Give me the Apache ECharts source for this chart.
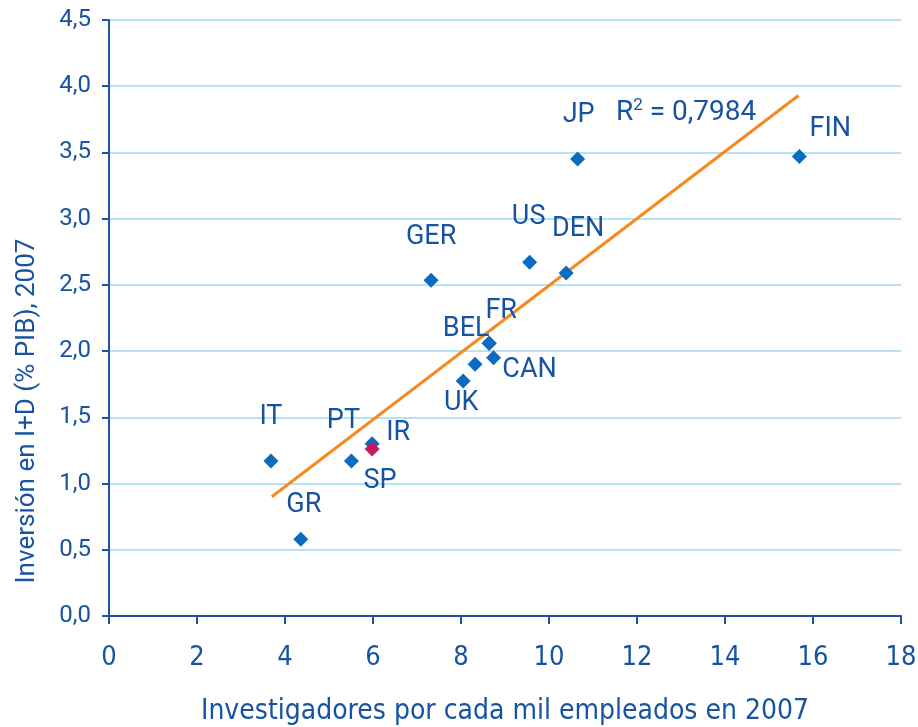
<!DOCTYPE html>
<html>
<head>
<meta charset="utf-8">
<style>
  html, body { margin: 0; padding: 0; background: #fff; }
  #chart { width: 918px; height: 727px; }
</style>
<script src="https://cdn.jsdelivr.net/npm/echarts@6/dist/echarts.min.js"></script>
</head>
<body>
<div id="chart"></div>
<script>
const countries = ['IT', 'GR', 'PT', 'IR', 'SP', 'GER', 'UK', '', 'BEL', 'FR', 'CAN', 'US', 'DEN', 'JP', 'FIN'];
const researchers = [3.68, 4.36, 5.51, 5.98, 5.98, 7.32, 8.05, 8.32, 8.64, 8.64, 8.74, 9.56, 10.39, 10.65, 15.69];
const rdSpending = [1.17, 0.58, 1.17, 1.30, 1.26, 2.535, 1.775, 1.90, 2.06, 2.06, 1.95, 2.67, 2.59, 3.45, 3.47];
const trendX = [3.70, 15.67];
const trendY = [0.90, 3.93];
const xTicks = [0, 2, 4, 6, 8, 10, 12, 14, 16, 18];
const yTicks = [0, 0.5, 1, 1.5, 2, 2.5, 3, 3.5, 4, 4.5];

// label offsets around each marker
const labelOffsets = {
  IT: [0, -44], GR: [3, -34], PT: [-8, -40], IR: [26, -11], SP: [8, 32],
  GER: [0, -43], UK: [-2, 22], BEL: [-23, -14], FR: [12, -32], CAN: [36, 13],
  US: [-1, -45], DEN: [12, -44], JP: [1, -44], FIN: [31, -27]
};

const blueText = '#1853a2';
const axisBlue = '#1d53a0';
const font = 'Roboto';
const narrow = 'DejaVu Sans Condensed';

const chart = echarts.init(document.getElementById('chart'));

const points = countries.map((c, i) => ({
  name: c,
  value: [researchers[i], rdSpending[i]],
  itemStyle: { color: c === 'SP' ? '#c8185e' : '#0a6cc0', opacity: 1 },
  label: {
    show: c !== '',
    position: 'inside',
    offset: labelOffsets[c] || [0, 0],
    formatter: '{b}'
  }
}));

const option = {
  animation: false,
  grid: { left: 109, right: 17, top: 20, bottom: 111, outerBoundsMode: 'none' },
  xAxis: {
    type: 'value',
    min: xTicks[0],
    max: xTicks[xTicks.length - 1],
    interval: 2,
    name: 'Investigadores por cada mil empleados en 2007',
    nameLocation: 'middle',
    nameGap: 82,
    nameTextStyle: { color: blueText, fontSize: 28, fontFamily: narrow },
    axisLine: { show: true, onZero: false, lineStyle: { color: axisBlue, width: 2 } },
    axisTick: { show: true, length: 8, lineStyle: { color: axisBlue, width: 2 } },
    axisLabel: { color: blueText, fontSize: 27, margin: 28, fontFamily: narrow },
    splitLine: { show: false }
  },
  yAxis: {
    type: 'value',
    min: yTicks[0],
    max: yTicks[yTicks.length - 1],
    interval: 0.5,
    axisLine: { show: true, lineStyle: { color: axisBlue, width: 2 } },
    axisTick: { show: true, length: 7, lineStyle: { color: axisBlue, width: 2 } },
    axisLabel: {
      color: blueText, fontSize: 24, margin: 18, fontFamily: font,
      formatter: v => v.toFixed(1).replace('.', ',')
    },
    splitLine: { show: true, lineStyle: { color: '#b5e2f6', width: 2 } }
  },
  graphic: [
    {
      type: 'text',
      x: 27, y: 411,
      rotation: Math.PI / 2,
      style: {
        text: 'Inversión en I+D (% PIB), 2007',
        fill: blueText, fontSize: 26, fontFamily: font,
        align: 'center', verticalAlign: 'middle'
      }
    },
    {
      type: 'text',
      x: 616, y: 113,
      style: {
        text: '{a|R}{s|2}{a| = 0,7984}',
        verticalAlign: 'middle',
        rich: {
          a: { fill: blueText, fontSize: 28, fontFamily: font },
          s: { fill: blueText, fontSize: 17, fontFamily: font, verticalAlign: 'top', padding: [0, 0, 14, 0] }
        }
      }
    }
  ],
  series: [
    {
      type: 'line',
      data: trendX.map((x, i) => [x, trendY[i]]),
      showSymbol: false,
      lineStyle: { color: '#f58a1f', width: 3 },
      z: 3
    },
    {
      type: 'scatter',
      symbol: 'diamond',
      symbolSize: [15, 15],
      data: points,
      label: { color: blueText, fontSize: 27, fontFamily: font },
      z: 4
    }
  ]
};

chart.setOption(option);
</script>
</body>
</html>
